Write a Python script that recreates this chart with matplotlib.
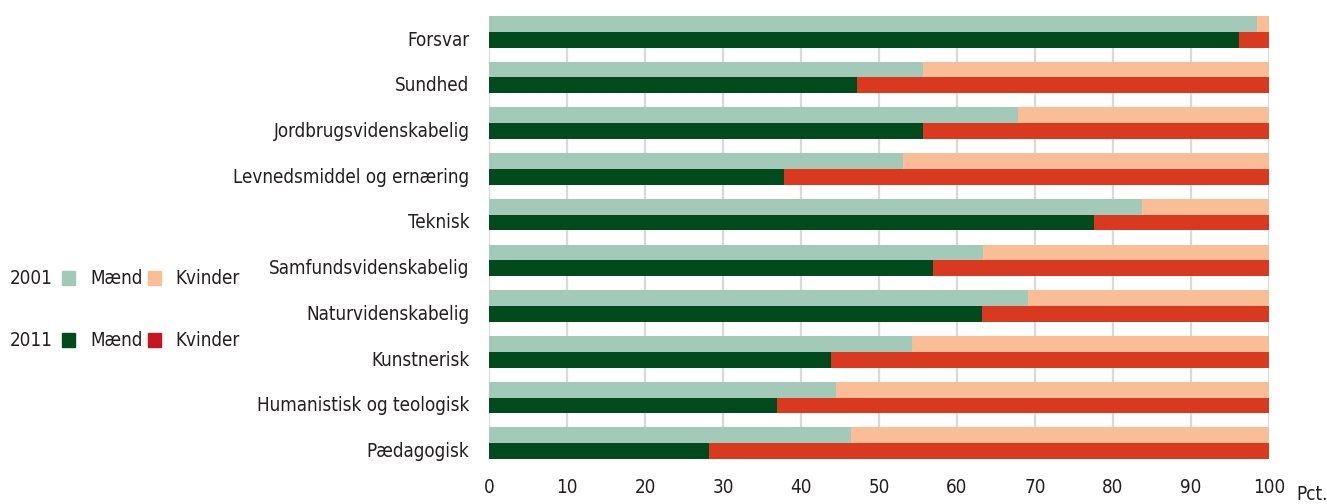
import numpy as np
import matplotlib.pyplot as plt
from matplotlib.patches import Rectangle

# data (andel mænd i pct., resten er kvinder)
categories = ['Forsvar', 'Sundhed', 'Jordbrugsvidenskabelig', 'Levnedsmiddel og ernæring',
              'Teknisk', 'Samfundsvidenskabelig', 'Naturvidenskabelig', 'Kunstnerisk',
              'Humanistisk og teologisk', 'Pædagogisk']
maend_2001 = [98.5, 55.6, 67.8, 53.1, 83.7, 63.3, 69.1, 54.2, 44.5, 46.4]
maend_2011 = [96.2, 47.2, 55.6, 37.8, 77.6, 56.9, 63.2, 43.8, 36.9, 28.2]
xticks = [0, 10, 20, 30, 40, 50, 60, 70, 80, 90, 100]

c_m01 = '#A3CAB8'
c_k01 = '#F9BE96'
c_m11 = '#004A1C'
c_k11 = '#D9391E'
c_k11_leg = '#C8161E'

plt.rcParams['font.family'] = ['DejaVu Sans']
plt.rcParams['font.stretch'] = 'condensed'
plt.rcParams['font.size'] = 13.5
txt_col = '#231F20'

W, H = 1327, 504
fig = plt.figure(figsize=(W / 100, H / 100), dpi=100)
ax = fig.add_axes([489 / W, 1 - 459 / H, (1269 - 489) / W, (459 - 16) / H])

n = len(categories)
y = np.arange(n)[::-1] * 1.0
h = 0.345
m01 = np.array(maend_2001)
m11 = np.array(maend_2011)

ax.barh(y + h / 2, m01, height=h, color=c_m01, zorder=2)
ax.barh(y + h / 2, 100 - m01, left=m01, height=h, color=c_k01, zorder=2)
ax.barh(y - h / 2, m11, height=h, color=c_m11, zorder=2)
ax.barh(y - h / 2, 100 - m11, left=m11, height=h, color=c_k11, zorder=2)

ax.set_xlim(0, 100)
ax.set_ylim(y.min() - h, y.max() + h)
ax.set_xticks(xticks)
ax.set_xticklabels([str(t) for t in xticks], color=txt_col)
# kategorinavne står ud for 2011-søjlen
ax.set_yticks(y - h * 0.4)
ax.set_yticklabels(categories, color=txt_col)
ax.tick_params(axis='both', length=0)
ax.tick_params(axis='y', pad=14)
ax.tick_params(axis='x', pad=14)
for s in ax.spines.values():
    s.set_visible(False)
ax.xaxis.grid(True, color='#D9D9D9', linewidth=1.6, zorder=0)
ax.set_axisbelow(True)

fig.text(1296 / W, 1 - 495 / H, 'Pct.', ha='left', va='center', color=txt_col)

# legend
def leg_row(yc, year, cm, ck):
    fig.text(10 / W, 1 - yc / H, year, ha='left', va='center', color=txt_col)
    fig.patches.append(Rectangle((62 / W, 1 - (yc + 7) / H), 13 / W, 14 / H,
                                 transform=fig.transFigure, color=cm))
    fig.text(90 / W, 1 - yc / H, 'Mænd', ha='left', va='center', color=txt_col)
    fig.patches.append(Rectangle((148 / W, 1 - (yc + 7) / H), 13 / W, 14 / H,
                                 transform=fig.transFigure, color=ck))
    fig.text(175 / W, 1 - yc / H, 'Kvinder', ha='left', va='center', color=txt_col)

leg_row(278, '2001', c_m01, c_k01)
leg_row(340, '2011', c_m11, c_k11_leg)

fig.savefig('out.png', dpi=100)
